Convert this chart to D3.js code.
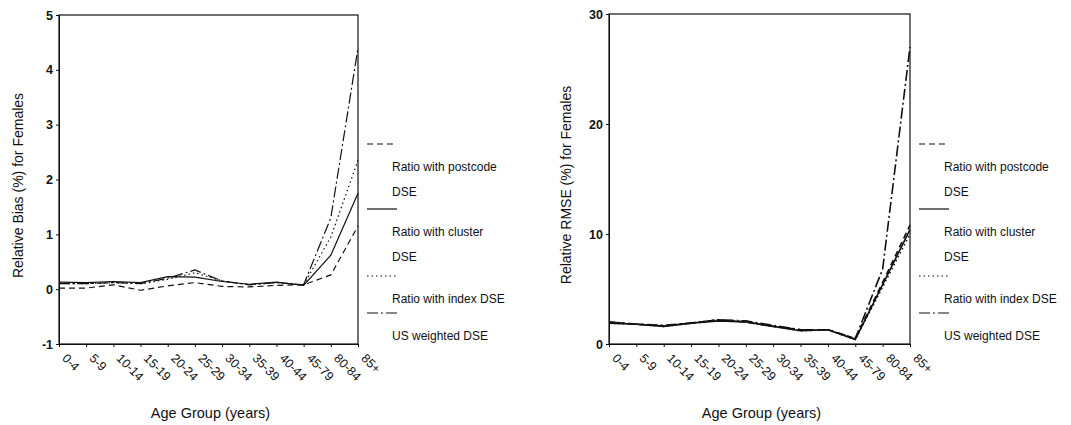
<!DOCTYPE html>
<html>
<head>
<meta charset="utf-8">
<script src="https://cdn.jsdelivr.net/npm/d3@7"></script>
<style>
  body { margin: 0; background: #fff; }
  svg { font-family: "Liberation Sans", Arial, sans-serif; }
  .axis path, .axis line { stroke: #111; }
  .axis text { fill: #111; font-size: 12.5px; }
</style>
</head>
<body>
<div id="chart-container"></div>
<script>
// Age groups on the x axis
const ageGroups = ["0-4", "5-9", "10-14", "15-19", "20-24", "25-29", "30-34", "35-39", "40-44", "45-79", "80-84", "85+"];

// Relative bias (%) for females
const biasPostcode = [0.02, 0.02, 0.08, -0.02, 0.06, 0.12, 0.05, 0.04, 0.07, 0.08, 0.26, 1.15];
const biasCluster  = [0.13, 0.12, 0.14, 0.12, 0.23, 0.22, 0.14, 0.09, 0.13, 0.07, 0.62, 1.75];
const biasIndex    = [0.10, 0.10, 0.12, 0.10, 0.18, 0.30, 0.15, 0.08, 0.12, 0.08, 0.95, 2.35];
const biasUS       = [0.10, 0.10, 0.12, 0.10, 0.20, 0.35, 0.15, 0.08, 0.12, 0.08, 1.30, 4.40];

// Relative RMSE (%) for females
const rmsePostcode = [2.0, 1.8, 1.65, 1.9, 2.2, 2.0, 1.6, 1.3, 1.3, 0.5, 5.6, 10.8];
const rmseCluster  = [1.9, 1.8, 1.6, 1.9, 2.1, 2.0, 1.6, 1.2, 1.3, 0.4, 5.4, 10.4];
const rmseIndex    = [1.9, 1.8, 1.6, 1.9, 2.2, 2.0, 1.6, 1.2, 1.3, 0.4, 5.2, 10.0];
const rmseUS       = [2.0, 1.8, 1.7, 1.9, 2.2, 2.1, 1.7, 1.3, 1.3, 0.5, 6.8, 27.0];

const biasTicks = [-1, 0, 1, 2, 3, 4, 5];
const rmseTicks = [0, 10, 20, 30];

const legendLines = [["Ratio with postcode", "DSE"], ["Ratio with cluster", "DSE"], ["Ratio with index DSE"], ["US weighted DSE"]];
const dashes = ["6,4", null, "1.5,3", "11,3,2,3"];

const svg = d3.select("#chart-container").append("svg")
    .attr("width", 1071)
    .attr("height", 425);

function drawPanel(opts) {
    const x = d3.scalePoint().domain(ageGroups).range([opts.left, opts.right]);
    const y = d3.scaleLinear().domain(opts.domain).range([opts.bottom, opts.top]);

    const g = svg.append("g");

    // frame round the plot
    g.append("rect")
        .attr("x", opts.left).attr("y", opts.top)
        .attr("width", opts.right - opts.left).attr("height", opts.bottom - opts.top)
        .attr("fill", "none").attr("stroke", "#111").attr("stroke-width", 1.2);

    // y axis
    g.append("g")
        .attr("class", "axis")
        .attr("transform", `translate(${opts.left},0)`)
        .call(d3.axisLeft(y).tickValues(opts.ticks).tickFormat(d => d < 0 ? "-" + (-d) : d).tickSize(3).tickPadding(3))
        .call(a => a.selectAll("text").style("font-size", "12.5px").style("font-weight", "bold"));

    // x axis with rotated labels
    const xa = g.append("g")
        .attr("class", "axis")
        .attr("transform", `translate(0,${opts.bottom})`)
        .call(d3.axisBottom(x).tickSize(3).tickSizeOuter(0));
    xa.selectAll("text")
        .attr("text-anchor", "start")
        .attr("dy", 0)
        .attr("y", 0)
        .attr("transform", "translate(2,15) rotate(45)");

    // lines
    const line = d3.line()
        .x((d, i) => x(ageGroups[i]))
        .y(d => y(d));
    opts.series.forEach((s, k) => {
        g.append("path")
            .datum(s)
            .attr("d", line)
            .attr("fill", "none")
            .attr("stroke", "#111")
            .attr("stroke-width", opts.strokeWidth)
            .attr("stroke-dasharray", dashes[k]);
    });

    // axis titles
    g.append("text")
        .attr("transform", `translate(${opts.yTitleX},${(opts.top + opts.bottom) / 2 + 6}) rotate(-90)`)
        .attr("text-anchor", "middle")
        .style("font-size", "14px")
        .attr("fill", "#111")
        .text(opts.yTitle);

    g.append("text")
        .attr("x", (opts.left + opts.right) / 2 + 2)
        .attr("y", 418)
        .attr("text-anchor", "middle")
        .style("font-size", "14.5px")
        .attr("fill", "#111")
        .text("Age Group (years)");

    // legend
    const legendY = [144, 209, 276, 313];
    const lx = opts.right + 9;
    legendLines.forEach((lines, k) => {
        g.append("line")
            .attr("x1", lx).attr("x2", lx + 30)
            .attr("y1", legendY[k]).attr("y2", legendY[k])
            .attr("stroke", "#111").attr("stroke-width", 1.2)
            .attr("stroke-dasharray", dashes[k]);
        lines.forEach((t, j) => {
            g.append("text")
                .attr("x", lx + 25)
                .attr("y", legendY[k] + 27 + j * 25)
                .style("font-size", "12px")
                .attr("fill", "#111")
                .text(t);
        });
    });
}

drawPanel({
    left: 59, right: 358, top: 15, bottom: 344,
    domain: [-1, 5], ticks: biasTicks,
    series: [biasPostcode, biasCluster, biasIndex, biasUS],
    yTitle: "Relative Bias (%) for Females", yTitleX: 23,
    strokeWidth: 1.2
});

drawPanel({
    left: 609, right: 910, top: 14, bottom: 344,
    domain: [0, 30], ticks: rmseTicks,
    series: [rmsePostcode, rmseCluster, rmseIndex, rmseUS],
    yTitle: "Relative RMSE (%) for Females", yTitleX: 571,
    strokeWidth: 1.6
});
</script>
</body>
</html>
